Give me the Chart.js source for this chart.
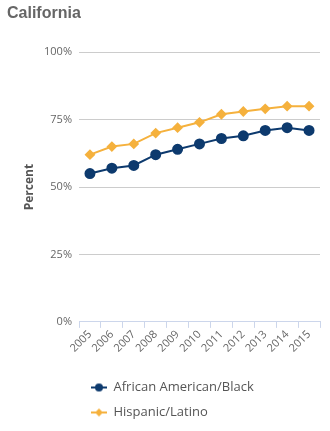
<!DOCTYPE html>
<html>
<head>
<meta charset="utf-8">
<script src="https://cdn.jsdelivr.net/npm/chart.js@4"></script>
<style>
  html, body { margin: 0; padding: 0; background: #fff; }
  #wrap { width: 330px; height: 431px; }
</style>
</head>
<body>
<div id="wrap"><canvas id="caChart" width="330" height="431"></canvas></div>
<script>
// Años y porcentajes por grupo
const years = ['2005', '2006', '2007', '2008', '2009', '2010', '2011', '2012', '2013', '2014', '2015'];
const africanAmerican = [55, 57, 58, 62, 64, 66, 68, 69, 71, 72, 71];
const hispanic = [62, 65, 66, 70, 72, 74, 77, 78, 79, 80, 80];
const yTicks = [0, 25, 50, 75, 100];

const navy = '#0d3a6e';
const gold = '#f5b13d';

// Icono de leyenda: línea corta con el marcador encima
function legendIcon(color, shape) {
    const c = document.createElement('canvas');
    c.width = 16; c.height = 10;
    const ctx = c.getContext('2d');
    ctx.strokeStyle = color;
    ctx.lineWidth = 2;
    ctx.beginPath();
    ctx.moveTo(0, 5); ctx.lineTo(16, 5);
    ctx.stroke();
    ctx.fillStyle = color;
    ctx.beginPath();
    if (shape === 'circle') {
        ctx.arc(8, 5, 4, 0, Math.PI * 2);
    } else {
        ctx.moveTo(8, 1); ctx.lineTo(12, 5); ctx.lineTo(8, 9); ctx.lineTo(4, 5); ctx.closePath();
    }
    ctx.fill();
    return c;
}
const icons = [legendIcon(navy, 'circle'), legendIcon(gold, 'diamond')];

const caChart = new Chart(document.getElementById('caChart'), {
    type: 'line',
    data: {
        labels: years,
        datasets: [{
            label: 'African American/Black',
            data: africanAmerican,
            borderColor: navy,
            backgroundColor: navy,
            borderWidth: 2,
            pointStyle: 'circle',
            pointRadius: 4.5,
            pointHoverRadius: 4.5,
            tension: 0
        }, {
            label: 'Hispanic/Latino',
            data: hispanic,
            borderColor: gold,
            backgroundColor: gold,
            borderWidth: 2,
            pointStyle: 'rectRot',
            pointRadius: 4,
            pointHoverRadius: 4,
            tension: 0
        }]
    },
    options: {
        responsive: false,
        animation: false,
        layout: { padding: { left: 7, right: 10, top: 0, bottom: 2 } },
        plugins: {
            title: {
                display: true,
                text: 'California',
                align: 'start',
                color: '#666666',
                font: { family: 'Liberation Sans', size: 16, weight: 'bold' },
                padding: { top: 4, bottom: 29 }
            },
            legend: {
                position: 'bottom',
                align: 'start',
                fullSize: false,
                labels: {
                    usePointStyle: true,
                    pointStyleWidth: 16,
                    color: '#555555',
                    font: { family: 'Open Sans', size: 13 },
                    padding: 12,
                    generateLabels(chart) {
                        return Chart.defaults.plugins.legend.labels.generateLabels(chart).map((item, i) => {
                            item.pointStyle = icons[i];
                            return item;
                        });
                    }
                }
            },
            tooltip: { enabled: false }
        },
        scales: {
            x: {
                offset: true,
                grid: {
                    offset: true,
                    drawOnChartArea: false,
                    color: '#ccd6eb',
                    tickLength: 6
                },
                border: { color: '#ccd6eb' },
                ticks: {
                    autoSkip: false,
                    minRotation: 45,
                    maxRotation: 45,
                    color: '#666666',
                    font: { family: 'Open Sans', size: 11 },
                    padding: 0
                },
                afterFit(axis) { axis.height += 14; }
            },
            y: {
                min: 0,
                max: 100,
                afterBuildTicks(axis) {
                    axis.ticks = yTicks.map(v => ({ value: v }));
                },
                grid: { color: '#cccccc', drawTicks: false },
                border: { display: false },
                ticks: {
                    color: '#666666',
                    font: { family: 'Open Sans', size: 11 },
                    padding: 7,
                    callback: v => v + '%'
                },
                title: {
                    display: true,
                    text: 'Percent',
                    color: '#555555',
                    font: { family: 'Open Sans', size: 12, weight: 'bold' },
                    padding: { top: 15, bottom: 8 }
                },
                afterFit(axis) { axis.width = 72; }
            }
        }
    }
});
</script>
</body>
</html>
